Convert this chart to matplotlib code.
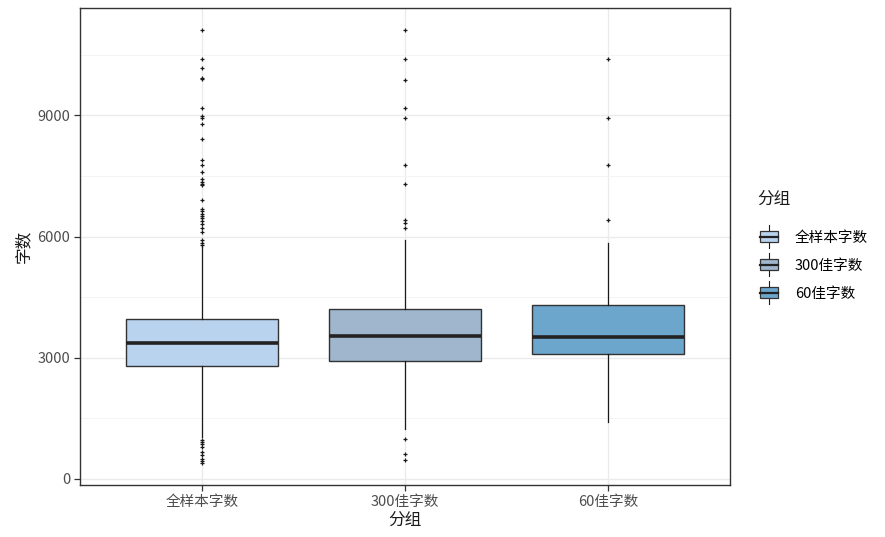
import matplotlib
matplotlib.use('Agg')
import matplotlib.pyplot as plt
from matplotlib.legend_handler import HandlerBase
from matplotlib.patches import Rectangle
from matplotlib.lines import Line2D
from matplotlib.ticker import MultipleLocator

plt.rcParams['font.family'] = ['Noto Sans CJK SC', 'DejaVu Sans']

# --- data ---
groups = ['全样本字数', '300佳字数', '60佳字数']
colors = ['#B9D3EE', '#9FB6CD', '#6CA6CD']

q1 = [2787, 2918, 3083]
med = [3363, 3544, 3512]
q3 = [3964, 4204, 4311]
whis_lo = [1039, 1229, 1418]
whis_hi = [5770, 5928, 5853]

fliers_all = [11121, 10404, 10181, 9934, 9892, 9192, 8985, 8945, 8797, 8426,
              7899, 7783, 7600, 7427, 7345, 7312, 7271, 6917, 6685, 6628,
              6570, 6512, 6454, 6388, 6323, 6224, 6116, 5910, 5853, 5804,
              972, 922, 865, 799, 660, 594, 495, 438, 388]
fliers_300 = [11121, 10404, 9885, 9192, 8945, 7783, 7312, 6421, 6347, 6215,
              982, 618, 470]
fliers_60 = [10404, 8945, 7783, 6414]
fliers = [fliers_all, fliers_300, fliers_60]

stats = []
for i, g in enumerate(groups):
    stats.append(dict(label=g, q1=q1[i], med=med[i], q3=q3[i],
                      whislo=whis_lo[i], whishi=whis_hi[i], fliers=fliers[i]))

W, H = 885, 537
fig = plt.figure(figsize=(W / 100, H / 100), dpi=100)
ax = fig.add_axes([80 / W, (H - 485) / H, 650 / W, 477 / H])

edge = '#333333'
bp = ax.bxp(stats, positions=[1, 2, 3], widths=0.75, patch_artist=True,
            showcaps=False,
            boxprops=dict(edgecolor=edge, linewidth=1.0),
            medianprops=dict(color='#222222', linewidth=2.6, solid_capstyle='butt'),
            whiskerprops=dict(color='#1a1a1a', linewidth=0.9),
            flierprops=dict(marker='+', markersize=3, markeredgewidth=0.9,
                            markeredgecolor='#1a1a1a', linestyle='none'),
            zorder=3)
for patch, c in zip(bp['boxes'], colors):
    patch.set_facecolor(c)

ax.set_xlim(0.4, 3.6)
ax.set_ylim(-150, 11660)
ax.yaxis.set_major_locator(MultipleLocator(3000))
ax.yaxis.set_minor_locator(MultipleLocator(1500))
ax.set_xticks([1, 2, 3])
ax.set_xticklabels(groups)

ax.grid(which='major', color='#ebebeb', linewidth=1.0, zorder=0)
ax.grid(which='minor', axis='y', color='#f3f3f3', linewidth=0.6, zorder=0)
ax.set_axisbelow(True)
for s in ax.spines.values():
    s.set_color(edge)
    s.set_linewidth(1.0)
ax.tick_params(axis='both', which='major', length=4, width=0.9, color=edge,
               labelcolor='#4d4d4d', labelsize=10.5, pad=3)
ax.tick_params(axis='y', which='minor', length=0)

ax.set_xlabel('分组', fontsize=12, color='#1a1a1a', labelpad=2)
ax.set_ylabel('字数', fontsize=12, color='#1a1a1a', labelpad=4)


class BoxKey(HandlerBase):
    # small boxplot glyph centred on the label text
    def create_artists(self, legend, orig, xd, yd, w, h, fs, trans):
        x0 = -xd
        cx = x0 + w / 2
        cy = 0.38 * fs
        r = Rectangle((x0, cy - 4.0), w, 8.0,
                      facecolor=orig.get_facecolor(), edgecolor=edge,
                      linewidth=0.9, transform=trans)
        m = Line2D([x0, x0 + w], [cy, cy], color='#222222', linewidth=1.6,
                   transform=trans)
        wl = Line2D([cx, cx], [cy - 8.3, cy - 4.0], color='#1a1a1a',
                    linewidth=0.8, transform=trans)
        wh = Line2D([cx, cx], [cy + 4.0, cy + 8.3], color='#1a1a1a',
                    linewidth=0.8, transform=trans)
        return [wl, wh, r, m]


fig.text(757 / W, 1 - 199 / H, '分组', fontsize=12, color='#1a1a1a',
         ha='left', va='center')

handles = [Rectangle((0, 0), 1, 1, facecolor=c) for c in colors]
leg = fig.legend(handles, groups, handler_map={Rectangle: BoxKey()},
                 loc='upper left', bbox_to_anchor=(760 / W, 1 - 224 / H),
                 frameon=False, fontsize=10.5,
                 handlelength=1.25, handleheight=2.5, handletextpad=1.15,
                 labelspacing=0.05, borderaxespad=0, borderpad=0)

fig.savefig('out.png', dpi=100)
